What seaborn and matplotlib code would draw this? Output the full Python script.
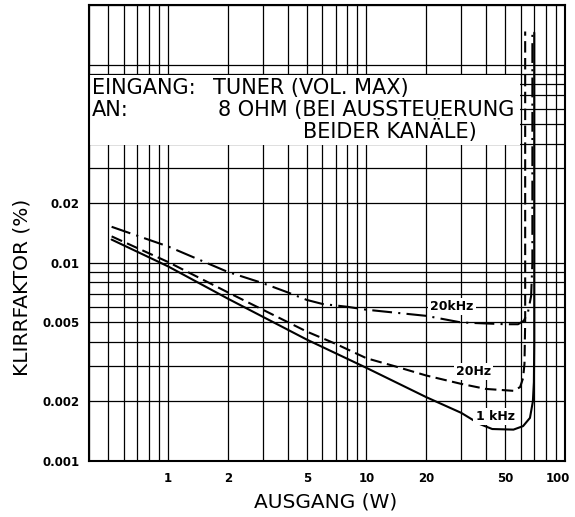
import numpy as np
import matplotlib
matplotlib.use("Agg")
import matplotlib.pyplot as plt
import matplotlib.transforms as mtransforms
import seaborn as sns
from matplotlib.ticker import LogLocator, NullFormatter, FixedLocator
from matplotlib.patches import Rectangle

# Data (output power W vs THD %)
w_1k = [0.52, 1, 2, 5, 10, 20, 30, 37, 43, 55, 61.5, 66.6, 68.9, 69.7, 70, 70]
thd_1k = [0.0131, 0.0096, 0.0066, 0.0041, 0.00295, 0.0021, 0.00175, 0.00154,
          0.00145, 0.00144, 0.0015, 0.00165, 0.002, 0.0025, 0.004, 0.145]

w_20 = [0.52, 1, 2, 5, 7, 10, 14, 20, 30, 40, 55, 59.4, 61.5, 62.5, 63, 63]
thd_20 = [0.0136, 0.0101, 0.0071, 0.0045, 0.0039, 0.0033, 0.0030, 0.0027, 0.00245,
          0.00231, 0.00226, 0.00236, 0.00262, 0.0031, 0.005, 0.147]

w_20k = [0.52, 1, 2, 3, 4, 5, 6, 8, 10, 20, 30, 50, 58, 62, 65, 67.5, 68.5, 68.5]
thd_20k = [0.0152, 0.0121, 0.009, 0.0079, 0.0071, 0.0065, 0.0062, 0.006, 0.0058, 0.0054,
           0.0050, 0.0049, 0.0049, 0.0051, 0.0056, 0.0068, 0.01, 0.145]

x_ticks = [1, 2, 5, 10, 20, 50, 100]
x_ticklabels = ["1", "2", "5", "10", "20", "50", "100"]
y_ticks = [0.001, 0.002, 0.005, 0.01, 0.02]
y_ticklabels = ["0.001", "0.002", "0.005", "0.01", "0.02"]

sns.set_style("white")
plt.rcParams["font.family"] = ["DejaVu Sans"]
plt.rcParams["text.color"] = "black"
plt.rcParams["axes.labelcolor"] = "black"
plt.rcParams["xtick.color"] = "black"
plt.rcParams["ytick.color"] = "black"

fig = plt.figure(figsize=(5.75, 5.17), dpi=100)
ax = fig.add_axes([89 / 575, 56 / 517, 476 / 575, 456 / 517])
ax.set_xscale("log")
ax.set_yscale("log")
ax.set_xlim(0.4, 100)
ax.set_ylim(0.001, 0.2)

# grid on every 1..9 subdivision
ax.xaxis.set_minor_locator(LogLocator(base=10, subs=np.arange(1, 10) * 1.0, numticks=30))
ax.yaxis.set_minor_locator(LogLocator(base=10, subs=np.arange(1, 10) * 1.0, numticks=30))
ax.xaxis.set_minor_formatter(NullFormatter())
ax.yaxis.set_minor_formatter(NullFormatter())
ax.xaxis.set_major_locator(FixedLocator(x_ticks))
ax.yaxis.set_major_locator(FixedLocator(y_ticks))
ax.set_xticklabels(x_ticklabels, fontsize=8.5, fontweight="bold")
ax.set_yticklabels(y_ticklabels, fontsize=8.5, fontweight="bold")
ax.tick_params(which="both", length=0)
ax.tick_params(axis="x", pad=8)
ax.tick_params(axis="y", pad=7)
ax.grid(True, which="both", color="black", linewidth=0.9)
ax.set_axisbelow(True)
for s in ax.spines.values():
    s.set_color("black")
    s.set_linewidth(1.5)

# nudge the last x label so it stays inside the image
last = ax.get_xticklabels()[-1]
last.set_transform(last.get_transform() +
                   mtransforms.ScaledTranslation(-5 / 72, 0, fig.dpi_scale_trans))

# white panel holding the test conditions
ax.add_patch(Rectangle((0, 0.693), 0.905, 0.153, transform=ax.transAxes,
                       facecolor="white", edgecolor="none", zorder=1))
tkw = dict(transform=ax.transAxes, fontsize=15, va="center", ha="left", zorder=2)
ax.text(0.006, 0.818, "EINGANG:", **tkw)
ax.text(0.261, 0.818, "TUNER (VOL. MAX)", **tkw)
ax.text(0.006, 0.770, "AN:", **tkw)
ax.text(0.271, 0.770, "8 OHM (BEI AUSSTEUERUNG", **tkw)
ax.text(0.45, 0.724, "BEIDER KANÄLE)", **tkw)

sns.lineplot(x=w_20k, y=thd_20k, sort=False, estimator=None, color="black",
             linewidth=1.5, linestyle=(0, (9.5, 3, 1, 3)), ax=ax, zorder=3)
sns.lineplot(x=w_20, y=thd_20, sort=False, estimator=None, color="black",
             linewidth=1.5, linestyle=(0, (5.5, 2.6)), ax=ax, zorder=3)
sns.lineplot(x=w_1k, y=thd_1k, sort=False, estimator=None, color="black",
             linewidth=1.5, ax=ax, zorder=3)

lkw = dict(fontsize=9, fontweight="bold", ha="center", va="center", zorder=4,
           bbox=dict(facecolor="white", edgecolor="none", pad=1.5))
ax.text(27, 0.006, "20kHz", **lkw)
ax.text(34.5, 0.00282, "20Hz", **lkw)
ax.text(44.4, 0.00167, "1 kHz", **lkw)

ax.set_xlabel("AUSGANG (W)", fontsize=14.5)
ax.set_ylabel("KLIRRFAKTOR (%)", fontsize=14.5)
ax.yaxis.set_label_coords(-0.12, 0.38)
ax.xaxis.set_label_coords(0.497, -0.07)

fig.savefig("out.png", dpi=100)
